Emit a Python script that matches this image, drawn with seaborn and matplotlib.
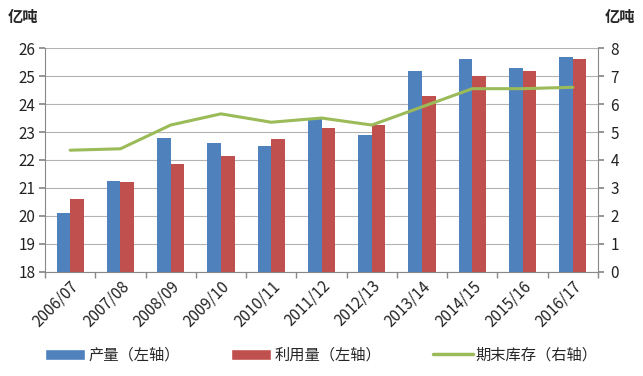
import numpy as np
import pandas as pd
import matplotlib
matplotlib.use("Agg")
import matplotlib.pyplot as plt
from matplotlib.patches import Patch
from matplotlib.lines import Line2D
import seaborn as sns

sns.set_theme(style="white")
plt.rcParams['font.family'] = ['Noto Sans CJK SC', 'DejaVu Sans']

seasons = ["2006/07", "2007/08", "2008/09", "2009/10", "2010/11", "2011/12",
           "2012/13", "2013/14", "2014/15", "2015/16", "2016/17"]
production = [20.1, 21.25, 22.8, 22.6, 22.5, 23.5, 22.9, 25.2, 25.6, 25.3, 25.7]
usage = [20.6, 21.2, 21.85, 22.15, 22.75, 23.15, 23.25, 24.3, 25.0, 25.2, 25.6]
stocks = [4.35, 4.4, 5.25, 5.65, 5.35, 5.5, 5.25, 5.9, 6.55, 6.55, 6.6]
series_names = ["产量（左轴）", "利用量（左轴）", "期末库存（右轴）"]

blue, red, green = "#4F81BD", "#C0504D", "#9BBB59"

df = pd.DataFrame({
    "season": seasons * 2,
    "value": production + usage,
    "series": [series_names[0]] * len(seasons) + [series_names[1]] * len(seasons),
})

fig = plt.figure(figsize=(6.43, 3.76), dpi=100)
ax = fig.add_axes([0.070, 0.277, 0.860, 0.595])

sns.barplot(data=df, x="season", y="value", hue="series", palette=[blue, red],
            width=0.54, gap=0, ax=ax, legend=False, saturation=1, linewidth=0)
ax.set_ylim(18, 26)
ax.set_xlim(-0.5, len(seasons) - 0.5)
ax.set_yticks(np.arange(18, 27, 1))
ax.yaxis.grid(True, color="#b3b3b3", linewidth=0.8)
ax.set_axisbelow(True)
ax.set_xlabel("")
ax.set_ylabel("")
ax.set_xticks(np.arange(len(seasons)))
ax.set_xticklabels(seasons, rotation=45, ha="right", rotation_mode="anchor", fontsize=11)
ax.tick_params(axis="x", length=0, pad=4)
ax.set_xticks(np.arange(len(seasons) + 1) - 0.5, minor=True)
ax.tick_params(axis="x", which="minor", length=4, color="#888888", direction="out", bottom=True)
ax.tick_params(axis="y", length=4, color="#888888", direction="out", left=True, labelsize=11, pad=3)
for s in ["top", "right"]:
    ax.spines[s].set_visible(False)
for s in ["left", "bottom"]:
    ax.spines[s].set_color("#888888")
    ax.spines[s].set_linewidth(0.8)

ax2 = ax.twinx()
sns.lineplot(x=np.arange(len(seasons)), y=stocks, color=green, linewidth=2.2, ax=ax2)
ax2.set_ylim(0, 8)
ax2.set_yticks(np.arange(0, 9, 1))
ax2.tick_params(axis="y", length=4, color="#888888", direction="out", right=True, labelsize=11, pad=5)
for s in ["top", "left", "bottom"]:
    ax2.spines[s].set_visible(False)
ax2.spines["right"].set_color("#888888")
ax2.spines["right"].set_linewidth(0.8)
ax2.set_xlim(-0.5, len(seasons) - 0.5)

for a in (ax, ax2):
    for lbl in a.get_yticklabels() + a.get_xticklabels():
        lbl.set_color("#222222")

fig.text(0.012, 0.955, "亿吨", fontsize=11, fontweight="bold", ha="left", va="center")
fig.text(0.988, 0.955, "亿吨", fontsize=11, fontweight="bold", ha="right", va="center")

handles = [Patch(facecolor=blue), Patch(facecolor=red),
           Line2D([0], [0], color=green, linewidth=2.5)]
fig.legend(handles, series_names, loc="center", bbox_to_anchor=(0.5, 0.055), ncol=3,
           frameon=False, fontsize=11, handlelength=2.6, handleheight=0.7,
           handletextpad=0.2, columnspacing=3.4)

fig.savefig("out.png", dpi=100)
